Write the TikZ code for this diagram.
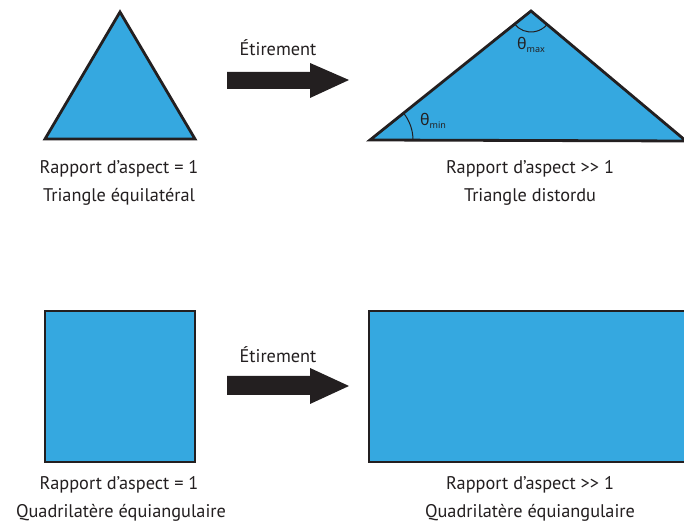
\documentclass[tikz,border=0pt]{standalone}
\usepackage{fontspec}
\setmainfont[Ligatures=NoCommon]{PT Sans}
\newfontfamily\greekfont{Noto Sans}
\usetikzlibrary{calc}
\definecolor{fillblue}{HTML}{35A8E0}
\definecolor{ink}{HTML}{231F20}
\tikzset{
  blueshape/.style={fill=fillblue,draw=ink,line width=2.8pt,line join=miter},
  fatarrow/.style={fill=ink,draw=none},
  lbl/.style={font=\fontsize{18.3}{20}\selectfont,inner sep=0pt,text=ink},
  anglearc/.style={draw=ink,line width=1pt},
  anglbl/.style={font=\fontsize{16}{17}\selectfont,inner sep=0pt,text=ink}
}
\begin{document}
\begin{tikzpicture}[x=1pt,y=1pt]
\useasboundingbox (0,0) rectangle (684,526);
\clip (0,0) rectangle (684,526);
\fill[white] (0,0) rectangle (684,526);
% top row
\draw[blueshape] (45,387) -- (120,514) -- (195,387) -- cycle;
\fill[fatarrow] (227,437) -- (310,437) -- (310,428) -- (349,446) -- (310,463) -- (310,454) -- (227,454) -- cycle;
\node[lbl] (s1) at (278,478) {Étirement};
\coordinate (L) at (370,386);
\coordinate (A) at (531,515);
\coordinate (R) at (686,385);
\draw[blueshape] (L) -- (A) -- (R) -- cycle;
\draw[anglearc] ($(L)+(43,0)$) arc[start angle=0,end angle=38.7,radius=43];
\draw[anglearc] ($(A)+(218.7:21)$) arc[start angle=218.7,end angle=319.7,radius=21];
\node[anglbl,anchor=base west] (tmin) at (420,400) {\greekfont θ\raisebox{-3pt}{\fontsize{9}{10}\selectfont min}};
\node[anglbl,anchor=base west] (tmax) at (517,476) {\greekfont θ\raisebox{-3pt}{\fontsize{9}{10}\selectfont max}};
\node[lbl] (a1) at (119,357) {Rapport d’aspect = 1};
\node[lbl] (b1) at (119,329) {Triangle équilatéral};
\node[lbl] (a2) at (530,357) {Rapport d’aspect {>}{>} 1};
\node[lbl] (b2) at (530,329) {Triangle distordu};
% bottom row
\draw[blueshape] (45,215) rectangle (195,64);
\fill[fatarrow] (227,131) -- (310,131) -- (310,122) -- (349,140) -- (310,158) -- (310,150) -- (227,150) -- cycle;
\node[lbl] (s2) at (278,171) {Étirement};
\draw[blueshape] (369,215) rectangle (700,64);
\node[lbl] (a3) at (119,41) {Rapport d’aspect = 1};
\node[lbl] (b3) at (121,13) {Quadrilatère équiangulaire};
\node[lbl] (a4) at (530,41) {Rapport d’aspect {>}{>} 1};
\node[lbl] (b4) at (530,13) {Quadrilatère équiangulaire};
\end{tikzpicture}
\end{document}
